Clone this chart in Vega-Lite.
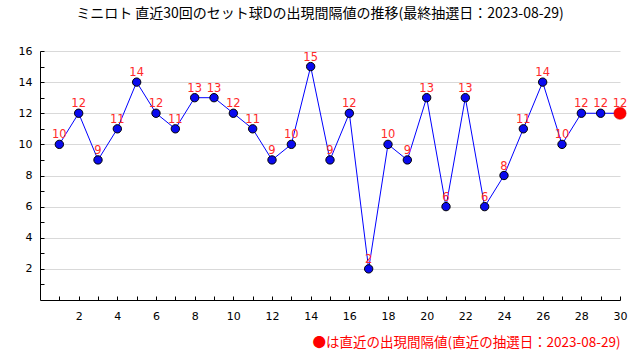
{
  "$schema": "https://vega.github.io/schema/vega-lite/v6.json",
  "width": 580,
  "height": 249,
  "autosize": {"type": "none"},
  "padding": {"left": 40, "top": 51, "right": 20, "bottom": 60},
  "background": "white",
  "title": {
    "text": "ミニロト 直近30回のセット球Dの出現間隔値の推移(最終抽選日：2023-08-29)",
    "font": "Noto Sans CJK JP",
    "fontSize": 14,
    "fontWeight": "normal",
    "color": "#000000",
    "anchor": "middle",
    "dx": -10,
    "offset": 24
  },
  "config": {
    "view": {"stroke": null},
    "axis": {
      "labelFont": "DejaVu Sans",
      "labelFontSize": 11,
      "labelColor": "#000000",
      "domainColor": "#000000",
      "tickColor": "#000000",
      "gridColor": "#d9d9d9"
    }
  },
  "data": {
    "values": [
      {"n": 1, "v": 10}, {"n": 2, "v": 12}, {"n": 3, "v": 9}, {"n": 4, "v": 11},
      {"n": 5, "v": 14}, {"n": 6, "v": 12}, {"n": 7, "v": 11}, {"n": 8, "v": 13},
      {"n": 9, "v": 13}, {"n": 10, "v": 12}, {"n": 11, "v": 11}, {"n": 12, "v": 9},
      {"n": 13, "v": 10}, {"n": 14, "v": 15}, {"n": 15, "v": 9}, {"n": 16, "v": 12},
      {"n": 17, "v": 2}, {"n": 18, "v": 10}, {"n": 19, "v": 9}, {"n": 20, "v": 13},
      {"n": 21, "v": 6}, {"n": 22, "v": 13}, {"n": 23, "v": 6}, {"n": 24, "v": 8},
      {"n": 25, "v": 11}, {"n": 26, "v": 14}, {"n": 27, "v": 10}, {"n": 28, "v": 12},
      {"n": 29, "v": 12}, {"n": 30, "v": 12}
    ]
  },
  "encoding": {
    "x": {
      "field": "n", "type": "quantitative",
      "scale": {"domain": [0, 30], "nice": false, "zero": false},
      "axis": {
        "values": [1,2,3,4,5,6,7,8,9,10,11,12,13,14,15,16,17,18,19,20,21,22,23,24,25,26,27,28,29,30],
        "labelExpr": "datum.value % 2 === 0 ? datum.label : ''",
        "grid": false,
        "tickSize": -4,
        "labelPadding": 14,
        "labelFlush": false,
        "labelOverlap": false,
        "title": "●は直近の出現間隔値(直近の抽選日：2023-08-29)",
        "titleFont": "Noto Sans CJK JP",
        "titleFontSize": 13.5,
        "titleFontWeight": "normal",
        "titleColor": "#ff0000",
        "titleAnchor": "end",
        "titleAlign": "right",
        "titlePadding": 14
      }
    },
    "y": {
      "field": "v", "type": "quantitative",
      "scale": {"domain": [0, 16], "nice": false},
      "axis": {
        "values": [1,2,3,4,5,6,7,8,9,10,11,12,13,14,15,16],
        "labelExpr": "datum.value % 2 === 0 ? datum.label : ''",
        "grid": true,
        "gridOpacity": {"condition": {"test": "datum.value % 2 === 0", "value": 1}, "value": 0},
        "tickSize": -4,
        "labelPadding": 12,
        "labelOverlap": false,
        "title": null
      }
    }
  },
  "layer": [
    {"mark": {"type": "line", "color": "#0000ff", "strokeWidth": 1}},
    {"mark": {"type": "point", "filled": true, "fill": "#0a0aee", "stroke": "#000000", "strokeWidth": 1, "size": 70, "opacity": 1}},
    {
      "transform": [{"filter": "datum.n === 30"}],
      "mark": {"type": "point", "filled": true, "fill": "#ff0000", "stroke": "#cc0000", "strokeWidth": 0.5, "size": 150, "opacity": 1}
    },
    {
      "mark": {"type": "text", "color": "#ff2a2a", "font": "DejaVu Sans", "fontSize": 11.5, "baseline": "alphabetic", "dy": -6},
      "encoding": {"text": {"field": "v", "type": "quantitative"}}
    }
  ]
}
